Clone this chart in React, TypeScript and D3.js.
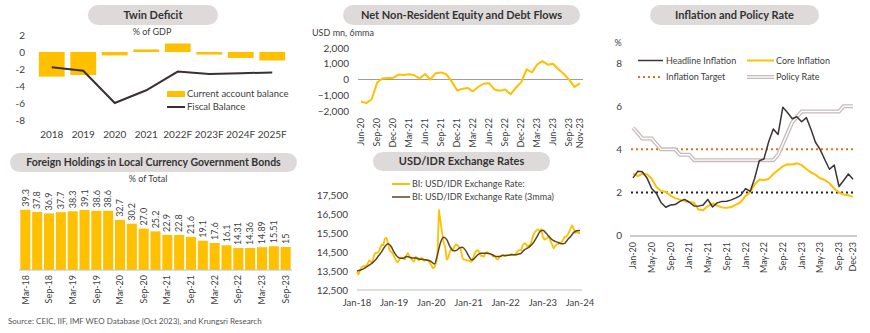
import React from 'react';
import * as d3 from 'd3';

const FONT = 'Lato, "Open Sans", sans-serif';
const YELLOW = '#FFC000';
const TEXT = '#404040';
const PILL = '#dedada';

// ---------- Panel 1: Twin Deficit ----------
const tdYears = ['2018', '2019', '2020', '2021', '2022F', '2023F', '2024F', '2025F'];
const tdCurrentAccount = [-2.9, -2.7, -0.4, 0.3, 1.0, -0.3, -0.7, -1.0];
const tdFiscal = [-1.8, -2.2, -6.0, -4.5, -2.3, -2.6, -2.5, -2.4];
const tdTicks = [2, 0, -2, -4, -6, -8];

// ---------- Panel 2: Foreign Holdings ----------
const fhQuarters = ['Mar-18', 'Jun-18', 'Sep-18', 'Dec-18', 'Mar-19', 'Jun-19', 'Sep-19', 'Dec-19',
  'Mar-20', 'Jun-20', 'Sep-20', 'Dec-20', 'Mar-21', 'Jun-21', 'Sep-21', 'Dec-21',
  'Mar-22', 'Jun-22', 'Sep-22', 'Dec-22', 'Mar-23', 'Jun-23', 'Sep-23'];
const fhValues = [39.3, 37.8, 36.9, 37.7, 38.3, 39.1, 38.6, 38.6, 32.7, 30.2, 27.0, 25.2, 22.9, 22.8,
  21.6, 19.1, 17.6, 16.1, 14.31, 14.36, 14.89, 15.51, 15];
const fhLabels = ['39.3', '37.8', '36.9', '37.7', '38.3', '39.1', '38.6', '38.6', '32.7', '30.2', '27.0',
  '25.2', '22.9', '22.8', '21.6', '19.1', '17.6', '16.1', '14.31', '14.36', '14.89', '15.51', '15'];

// ---------- Panel 3: Net Non-Resident flows (monthly from Jun-20) ----------
const nfValues = [-1400, -1500, -1250, -190, 60, 100, 100, 310, 290, 330, 270, 60, 350, 0, 400, 450, 330,
  -150, -700, -580, -540, -750, -460, -270, -230, -630, -710, -630, -940, -520, -170, 650, 460, 940,
  1170, 940, 1000, 650, 350, -20, -480, -230];
const nfTicks = [2000, 1000, 0, -1000, -2000];
const nfTickMonths = ['2020-06', '2020-09', '2020-12', '2021-03', '2021-06', '2021-09', '2021-12', '2022-03',
  '2022-06', '2022-09', '2022-12', '2023-03', '2023-06', '2023-09', '2023-11'];

// ---------- Panel 4: USD/IDR (semi-monthly) ----------
const fx2018 = [13450, 13320, 13550, 13700, 13750, 13760, 13780, 13900, 14050, 14000, 13950, 14300,
  14450, 14450, 14500, 14700, 14900, 14850, 15200, 15250, 15000, 14600, 14500, 14450];
const fx2019 = [14250, 14100, 13950, 14050, 14200, 14200, 14150, 14100, 14300, 14450, 14250, 14150,
  14050, 14000, 14250, 14200, 14050, 14150, 14200, 14050, 14050, 14100, 14050, 13950];
const fx2020 = [13800, 13650, 13700, 13900, 14300, 16700, 16100, 15500, 15000, 14800, 14100, 14200,
  14500, 14700, 14600, 14800, 14900, 14850, 14750, 14650, 14200, 14100, 14100, 14050];
const fx2021 = [14050, 14000, 14000, 14200, 14400, 14550, 14600, 14500, 14300, 14300, 14250, 14450,
  14500, 14450, 14400, 14350, 14250, 14300, 14150, 14100, 14250, 14300, 14350, 14300];
const fx2022 = [14300, 14350, 14350, 14350, 14400, 14350, 14350, 14450, 14550, 14600, 14600, 14850,
  14950, 14950, 14800, 14850, 14900, 15150, 15400, 15550, 15650, 15700, 15600, 15700];
const fx2023 = [15300, 15150, 15200, 15250, 15350, 15100, 14900, 14700, 14800, 14900, 14900, 15000,
  15000, 15100, 15300, 15300, 15400, 15550, 15750, 15900, 15700, 15500, 15550, 15500];
const fxJan24 = 15500;
const fx3mma = [
  13500, 13540, 13600, 13700, 13810, 13930, 14080, 14300, 14520, 14780, 14930, 14800,
  14480, 14260, 14170, 14170, 14260, 14230, 14180, 14180, 14130, 14120, 14090, 14070,
  13990, 13870, 14350, 15000, 15270, 15150, 14800, 14570, 14580, 14700, 14750, 14600,
  14300, 14080, 14170, 14350, 14430, 14430, 14430, 14400, 14330, 14260, 14260, 14310,
  14310, 14330, 14350, 14350, 14380, 14430, 14600, 14700, 14820, 15000, 15270, 15550,
  15640, 15500, 15320, 15150, 15060, 15000, 14940, 14950, 15150, 15320, 15530, 15620,
  15630];
const fxTicks = [17500, 16500, 15500, 14500, 13500, 12500];
const fxYearLabels = ['Jan-18', 'Jan-19', 'Jan-20', 'Jan-21', 'Jan-22', 'Jan-23', 'Jan-24'];

// ---------- Panel 5: Inflation and Policy Rate (monthly from Jan-20) ----------
const headline = [2.68, 2.98, 2.96, 2.67, 2.19, 1.96, 1.54, 1.32, 1.42, 1.44, 1.59, 1.68,
  1.55, 1.38, 1.37, 1.42, 1.68, 1.33, 1.52, 1.59, 1.60, 1.66, 1.75, 1.87,
  2.18, 2.06, 2.64, 3.47, 3.55, 4.35, 4.94, 4.69, 5.95, 5.71, 5.42, 5.51,
  5.28, 5.47, 4.97, 4.33, 4.00, 3.52, 3.08, 3.27, 2.28, 2.56, 2.86, 2.61];
const core = [2.88, 2.76, 2.87, 2.85, 2.65, 2.26, 2.07, 2.03, 1.86, 1.74, 1.67, 1.60,
  1.56, 1.53, 1.21, 1.18, 1.37, 1.49, 1.40, 1.31, 1.30, 1.33, 1.44, 1.56,
  1.84, 2.03, 2.37, 2.60, 2.58, 2.63, 2.86, 3.04, 3.21, 3.31, 3.30, 3.36,
  3.27, 3.09, 2.94, 2.83, 2.66, 2.58, 2.43, 2.18, 2.00, 1.91, 1.87, 1.80];
const policyRate = [5.00, 4.75, 4.50, 4.50, 4.50, 4.25, 4.00, 4.00, 4.00, 4.00, 3.75, 3.75,
  3.75, 3.50, 3.50, 3.50, 3.50, 3.50, 3.50, 3.50, 3.50, 3.50, 3.50, 3.50,
  3.50, 3.50, 3.50, 3.50, 3.50, 3.50, 3.50, 3.75, 4.25, 4.75, 5.25, 5.50,
  5.75, 5.75, 5.75, 5.75, 5.75, 5.75, 5.75, 5.75, 5.75, 6.00, 6.00, 6.00];
const targetUpper = 4;
const targetLower = 2;
const inflTicks = [8, 6, 4, 2, 0];
const inflTickMonths = ['2020-01', '2020-05', '2020-09', '2021-01', '2021-05', '2021-09', '2022-01',
  '2022-05', '2022-09', '2023-01', '2023-05', '2023-09', '2023-12'];

const parseMonth = d3.timeParse('%Y-%m');
const fmtMonth = d3.timeFormat('%b-%y');
const monthsFrom = (start: string, n: number) => d3.range(n).map(i => d3.timeMonth.offset(parseMonth(start)!, i));

function Pill({ x, y, w, h, label, size = 11 }: { x: number; y: number; w: number; h: number; label: string; size?: number }) {
  return (
    <g>
      <rect x={x} y={y} width={w} height={h} rx={h / 2} fill={PILL} />
      <text x={x + w / 2} y={y + h / 2} dy="0.35em" textAnchor="middle" fontWeight="bold" fontSize={size} fill="#333">{label}</text>
    </g>
  );
}

function TwinDeficit() {
  const x = d3.scaleBand<string>().domain(tdYears).range([36, 288]).paddingInner(0.18).paddingOuter(0.09);
  const y = d3.scaleLinear().domain([-8, 2]).range([120, 35]);
  const line = d3.line<number>().x((_, i) => x(tdYears[i])! + x.bandwidth() / 2).y(d => y(d));
  return (
    <g>
      <Pill x={88} y={5} w={130} h={20} label="Twin Deficit" />
      <text x={152} y={32} dy="0.35em" textAnchor="middle" fontSize={9} fill={TEXT}>% of GDP</text>
      {tdTicks.map(t => (
        <text key={t} x={25} y={y(t)} dy="0.35em" textAnchor="end" fontSize={10} fill={TEXT}>{t}</text>
      ))}
      {tdCurrentAccount.map((v, i) => (
        <rect key={i} x={x(tdYears[i])} y={Math.min(y(v), y(0))} width={x.bandwidth()} height={Math.abs(y(v) - y(0))} fill={YELLOW} />
      ))}
      <path d={line(tdFiscal)!} fill="none" stroke="#3b3030" strokeWidth={2} />
      {tdYears.map(c => (
        <text key={c} x={x(c)! + x.bandwidth() / 2} y={134} dy="0.35em" textAnchor="middle" fontSize={10} fill={TEXT}>{c}</text>
      ))}
      <rect x={167} y={91} width={18} height={6} fill={YELLOW} />
      <text x={187} y={94} dy="0.35em" fontSize={9.5} fill={TEXT}>Current account balance</text>
      <line x1={167} x2={185} y1={107} y2={107} stroke="#3b3030" strokeWidth={2} />
      <text x={187} y={107} dy="0.35em" fontSize={9.5} fill={TEXT}>Fiscal Balance</text>
    </g>
  );
}

function ForeignHoldings() {
  const x = d3.scaleBand<string>().domain(fhQuarters).range([19.5, 291.5]).paddingInner(0.15).paddingOuter(0.07);
  const y = d3.scaleLinear().domain([0, 45]).range([270, 201]);
  return (
    <g>
      <Pill x={10} y={153} w={287} h={19} label="Foreign Holdings in Local Currency Government Bonds" size={10.5} />
      <text x={148} y={179} dy="0.35em" textAnchor="middle" fontSize={9} fill={TEXT}>% of Total</text>
      {fhValues.map((v, i) => {
        const cx = x(fhQuarters[i])! + x.bandwidth() / 2;
        return (
          <g key={i}>
            <rect x={x(fhQuarters[i])} y={y(v)} width={x.bandwidth()} height={y(0) - y(v)} fill={YELLOW} />
            <text transform={`translate(${cx},${y(v) - 3}) rotate(-90)`} dy="0.35em" fontSize={9} fill={TEXT}>{fhLabels[i]}</text>
          </g>
        );
      })}
      <line x1={19} x2={292} y1={270} y2={270} stroke="#bfbfbf" strokeWidth={1} />
      {fhQuarters.map((q, i) => i % 2 === 0 ? (
        <text key={q} transform={`translate(${x(q)! + x.bandwidth() / 2},${275}) rotate(-90)`} dy="0.35em" textAnchor="end" fontSize={9} fill={TEXT}>{q}</text>
      ) : null)}
    </g>
  );
}

function NetFlows() {
  const dates = monthsFrom('2020-06', nfValues.length);
  const x = d3.scaleTime().domain([dates[0], dates[dates.length - 1]]).range([361, 580]);
  const y = d3.scaleLinear().domain([-2000, 2000]).range([111, 48]);
  const line = d3.line<number>().x((_, i) => x(dates[i])).y(d => y(d));
  const fmt = d3.format(',');
  return (
    <g>
      <Pill x={343} y={5} w={237} h={20} label="Net Non-Resident Equity and Debt Flows" />
      <text x={312} y={33} dy="0.35em" fontSize={9} fill={TEXT}>USD mn, 6mma</text>
      {nfTicks.map(t => (
        <text key={t} x={349} y={y(t)} dy="0.35em" textAnchor="end" fontSize={10} fill={TEXT}>{fmt(t)}</text>
      ))}
      <line x1={358} x2={583} y1={y(0)} y2={y(0)} stroke="#a89898" strokeWidth={1} />
      <path d={line(nfValues)!} fill="none" stroke={YELLOW} strokeWidth={2} strokeLinejoin="round" />
      {nfTickMonths.map(m => {
        const d = parseMonth(m)!;
        return (
          <text key={m} transform={`translate(${x(d)},${118}) rotate(-90)`} dy="0.35em" textAnchor="end" fontSize={9} fill={TEXT}>{fmtMonth(d)}</text>
        );
      })}
    </g>
  );
}

function Exchange() {
  const daily = [fx2018, fx2019, fx2020, fx2021, fx2022, fx2023].flatMap((arr, yi) =>
    arr.map((v, i) => ({ d: new Date(2018 + yi, Math.floor(i / 2), i % 2 === 0 ? 1 : 16), v })));
  daily.push({ d: new Date(2024, 0, 1), v: fxJan24 });
  const mDates = monthsFrom('2018-01', fx3mma.length);
  const x = d3.scaleTime().domain([new Date(2018, 0, 1), new Date(2024, 0, 1)]).range([357, 580]);
  const y = d3.scaleLinear().domain([12500, 17500]).range([290, 195]);
  const lineD = d3.line<{ d: Date; v: number }>().x(p => x(p.d)).y(p => y(p.v));
  const lineM = d3.line<number>().x((_, i) => x(mDates[i])).y(d => y(d)).curve(d3.curveMonotoneX);
  const fmt = d3.format(',');
  return (
    <g>
      <Pill x={373} y={152} w={177} h={19} label="USD/IDR Exchange Rates" />
      <line x1={392} x2={410} y1={184} y2={184} stroke={YELLOW} strokeWidth={2} />
      <text x={412} y={184} dy="0.35em" fontSize={9} fill={TEXT}>BI: USD/IDR Exchange Rate:</text>
      <line x1={392} x2={410} y1={197} y2={197} stroke="#5b4522" strokeWidth={1.5} />
      <text x={412} y={197} dy="0.35em" fontSize={9} fill={TEXT}>BI: USD/IDR Exchange Rate (3mma)</text>
      {fxTicks.map(t => (
        <text key={t} x={348} y={y(t)} dy="0.35em" textAnchor="end" fontSize={10} fill={TEXT}>{fmt(t)}</text>
      ))}
      <line x1={357} x2={582} y1={290} y2={290} stroke="#bfbfbf" strokeWidth={1} />
      <path d={lineD(daily)!} fill="none" stroke={YELLOW} strokeWidth={1.8} strokeLinejoin="round" />
      <path d={lineM(fx3mma)!} fill="none" stroke="#5b4522" strokeWidth={1.5} />
      {fxYearLabels.map((l, i) => (
        <text key={l} x={x(new Date(2018 + i, 0, 1))} y={303} dy="0.35em" textAnchor="middle" fontSize={9.5} fill={TEXT}>{l}</text>
      ))}
    </g>
  );
}

function Inflation() {
  const dates = monthsFrom('2020-01', headline.length);
  const x = d3.scaleTime().domain([dates[0], dates[dates.length - 1]]).range([633, 853]);
  const y = d3.scaleLinear().domain([0, 8]).range([235.7, 63]);
  const line = d3.line<number>().x((_, i) => x(dates[i])).y(d => y(d));
  return (
    <g>
      <Pill x={650} y={5} w={169} h={20} label="Inflation and Policy Rate" />
      <text x={618} y={43} dy="0.35em" textAnchor="middle" fontSize={9} fill={TEXT}>%</text>
      {inflTicks.map(t => (
        <text key={t} x={622} y={y(t)} dy="0.35em" textAnchor="end" fontSize={10} fill={TEXT}>{t}</text>
      ))}
      <line x1={630} x2={857} y1={236} y2={236} stroke="#cfcaca" strokeWidth={2} />
      <line x1={631} x2={854} y1={y(targetUpper)} y2={y(targetUpper)} stroke="#E0701E" strokeWidth={2} strokeDasharray="2,3" />
      <line x1={631} x2={854} y1={y(targetLower)} y2={y(targetLower)} stroke="#222" strokeWidth={2} strokeDasharray="2,3" />
      <path d={line(policyRate)!} fill="none" stroke="#c6baba" strokeWidth={4} />
      <path d={line(policyRate)!} fill="none" stroke="#ffffff" strokeWidth={1.4} />
      <path d={line(core)!} fill="none" stroke={YELLOW} strokeWidth={2} strokeLinejoin="round" />
      <path d={line(headline)!} fill="none" stroke="#3d3535" strokeWidth={1.5} strokeLinejoin="round" />
      {inflTickMonths.map(m => {
        const d = parseMonth(m)!;
        return (
          <text key={m} transform={`translate(${x(d)},${242}) rotate(-90)`} dy="0.35em" textAnchor="end" fontSize={9} fill={TEXT}>{fmtMonth(d)}</text>
        );
      })}
      <line x1={638} x2={663} y1={60.5} y2={60.5} stroke="#3d3535" strokeWidth={1.5} />
      <text x={666} y={60.5} dy="0.35em" fontSize={9} fill={TEXT}>Headline Inflation</text>
      <line x1={747} x2={774} y1={60.5} y2={60.5} stroke={YELLOW} strokeWidth={2} />
      <text x={776} y={60.5} dy="0.35em" fontSize={9} fill={TEXT}>Core Inflation</text>
      <line x1={638} x2={663} y1={77} y2={77} stroke="#E0701E" strokeWidth={2} strokeDasharray="2,3" />
      <text x={666} y={77} dy="0.35em" fontSize={9} fill={TEXT}>Inflation Target</text>
      <line x1={747} x2={774} y1={77} y2={77} stroke="#c6baba" strokeWidth={4} />
      <line x1={747} x2={774} y1={77} y2={77} stroke="#ffffff" strokeWidth={1.4} />
      <text x={776} y={77} dy="0.35em" fontSize={9} fill={TEXT}>Policy Rate</text>
    </g>
  );
}

export default function App() {
  return (
    <svg width={870} height={333} viewBox="0 0 870 333"
      style={{ position: 'absolute', left: 0, top: 0, background: '#fff', fontFamily: FONT }}>
      <rect width={870} height={333} fill="#fff" />
      <TwinDeficit />
      <ForeignHoldings />
      <NetFlows />
      <Exchange />
      <Inflation />
      <text x={8} y={321} dy="0.35em" fontSize={8} fill="#555">Source: CEIC, IIF, IMF WEO Database (Oct 2023), and Krungsri Research</text>
    </svg>
  );
}
